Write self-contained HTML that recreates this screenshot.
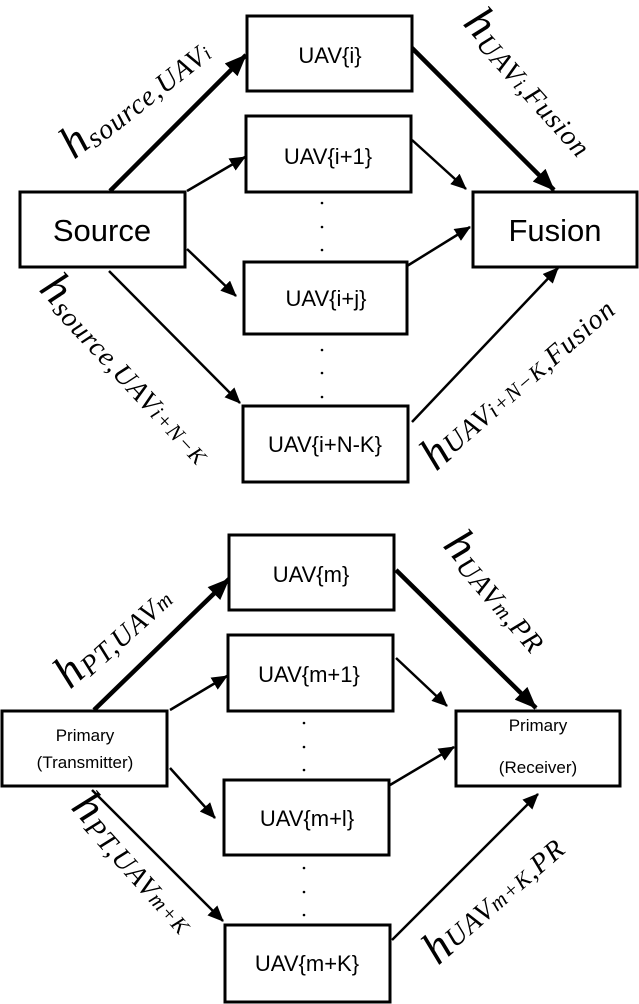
<!DOCTYPE html>
<html><head><meta charset="utf-8"><style>
html,body{margin:0;padding:0;background:#fff;}
svg{display:block;}
.b{fill:#fff;stroke:#000;stroke-width:3;}
.t{font-family:"Liberation Sans",sans-serif;fill:#000;text-anchor:middle;}
.l{font-family:"Liberation Serif",serif;font-style:italic;fill:#000;letter-spacing:1px;}
.a{stroke:#000;stroke-width:2.5;fill:none;}
.A{stroke:#000;stroke-width:4.5;fill:none;}
</style></head><body>
<svg width="639" height="1004" viewBox="0 0 639 1004" xmlns="http://www.w3.org/2000/svg">
<defs>
<marker id="ms" markerWidth="16" markerHeight="14" refX="15" refY="7" orient="auto" markerUnits="userSpaceOnUse"><path d="M0,0 L16,7 L0,14 z"/></marker>
<marker id="mb" markerWidth="22" markerHeight="18" refX="21" refY="9" orient="auto" markerUnits="userSpaceOnUse"><path d="M0,0 L22,9 L0,18 z"/></marker>
</defs>

<!-- TOP -->
<rect class="b" x="247" y="16" width="165" height="75"/>
<rect class="b" x="246" y="116" width="165" height="76"/>
<rect class="b" x="20" y="192" width="165" height="75"/>
<rect class="b" x="473" y="192" width="164" height="75"/>
<rect class="b" x="244" y="262" width="163" height="72"/>
<rect class="b" x="243" y="406" width="165" height="76"/>
<text class="t" x="330" y="63" font-size="22">UAV{i}</text>
<text class="t" x="328" y="164" font-size="22">UAV{i+1}</text>
<text class="t" x="102" y="241" font-size="31">Source</text>
<text class="t" x="555" y="241" font-size="31">Fusion</text>
<text class="t" x="326" y="306" font-size="22">UAV{i+j}</text>
<text class="t" x="325" y="452" font-size="22">UAV{i+N-K}</text>
<g fill="#000"><circle cx="322" cy="203" r="1.3"/><circle cx="322" cy="227" r="1.3"/><circle cx="322" cy="250" r="1.3"/><circle cx="322" cy="350" r="1.3"/><circle cx="322" cy="373" r="1.3"/><circle cx="322" cy="397" r="1.3"/></g>
<line class="A" x1="110" y1="191" x2="246" y2="55" marker-end="url(#mb)"/>
<line class="A" x1="412" y1="48" x2="554" y2="190" marker-end="url(#mb)"/>
<line class="a" x1="187" y1="191" x2="245" y2="157" marker-end="url(#ms)"/>
<line class="a" x1="412" y1="140" x2="466" y2="189" marker-end="url(#ms)"/>
<line class="a" x1="187" y1="249" x2="236" y2="296" marker-end="url(#ms)"/>
<line class="a" x1="407" y1="266" x2="470" y2="227" marker-end="url(#ms)"/>
<line class="a" x1="109" y1="271" x2="240" y2="403" marker-end="url(#ms)"/>
<line class="a" x1="412" y1="422" x2="558" y2="268" marker-end="url(#ms)"/>
<text class="l" transform="translate(74,160) rotate(-38)"><tspan font-size="46">h</tspan><tspan font-size="28" dy="4">source,UAV</tspan><tspan font-size="20">i</tspan></text>
<text class="l" transform="translate(462,24) rotate(48)"><tspan font-size="46">h</tspan><tspan font-size="28" dy="4">UAV</tspan><tspan font-size="20">i</tspan><tspan font-size="28">,Fusion</tspan></text>
<text class="l" transform="translate(38,290) rotate(47)"><tspan font-size="46">h</tspan><tspan font-size="28" dy="4">source,UAV</tspan><tspan font-size="22">i+N−K</tspan></text>
<text class="l" transform="translate(436,472) rotate(-41)"><tspan font-size="46">h</tspan><tspan font-size="28" dy="-2">UAV</tspan><tspan font-size="22">i+N−K</tspan><tspan font-size="28">,Fusion</tspan></text>

<!-- BOTTOM -->
<rect class="b" x="229" y="535" width="165" height="75"/>
<rect class="b" x="228" y="635" width="165" height="76"/>
<rect class="b" x="2" y="711" width="165" height="75"/>
<rect class="b" x="456" y="711" width="164" height="75"/>
<rect class="b" x="224" y="780" width="165" height="75"/>
<rect class="b" x="225" y="925" width="165" height="77"/>
<text class="t" x="311" y="582" font-size="22">UAV{m}</text>
<text class="t" x="309" y="682" font-size="22">UAV{m+1}</text>
<text class="t" x="85" y="741" font-size="17">Primary</text>
<text class="t" x="85" y="768" font-size="17">(Transmitter)</text>
<text class="t" x="538" y="731" font-size="17">Primary</text>
<text class="t" x="538" y="773" font-size="17">(Receiver)</text>
<text class="t" x="307" y="826" font-size="22">UAV{m+l}</text>
<text class="t" x="307" y="971" font-size="22">UAV{m+K}</text>
<g fill="#000"><circle cx="304" cy="723" r="1.3"/><circle cx="304" cy="747" r="1.3"/><circle cx="304" cy="770" r="1.3"/><circle cx="304" cy="868" r="1.3"/><circle cx="304" cy="892" r="1.3"/><circle cx="304" cy="915" r="1.3"/></g>
<line class="A" x1="94" y1="710" x2="229" y2="579" marker-end="url(#mb)"/>
<line class="A" x1="396" y1="570" x2="536" y2="708" marker-end="url(#mb)"/>
<line class="a" x1="170" y1="710" x2="227" y2="676" marker-end="url(#ms)"/>
<line class="a" x1="396" y1="658" x2="447" y2="706" marker-end="url(#ms)"/>
<line class="a" x1="170" y1="768" x2="215" y2="818" marker-end="url(#ms)"/>
<line class="a" x1="390" y1="785" x2="454" y2="747" marker-end="url(#ms)"/>
<line class="a" x1="92" y1="790" x2="223" y2="921" marker-end="url(#ms)"/>
<line class="a" x1="392" y1="940" x2="538" y2="794" marker-end="url(#ms)"/>
<text class="l" transform="translate(70,690) rotate(-42)"><tspan font-size="46">h</tspan><tspan font-size="28" dy="4">PT,UAV</tspan><tspan font-size="22">m</tspan></text>
<text class="l" transform="translate(442,546) rotate(49)"><tspan font-size="46">h</tspan><tspan font-size="28" dy="4">UAV</tspan><tspan font-size="22">m</tspan><tspan font-size="28">,PR</tspan></text>
<text class="l" transform="translate(70,808) rotate(48)"><tspan font-size="46">h</tspan><tspan font-size="28" dy="4">PT,UAV</tspan><tspan font-size="22">m+K</tspan></text>
<text class="l" transform="translate(438,966) rotate(-41)"><tspan font-size="46">h</tspan><tspan font-size="28" dy="-2">UAV</tspan><tspan font-size="22">m+K</tspan><tspan font-size="28">,PR</tspan></text>
</svg>
</body></html>
